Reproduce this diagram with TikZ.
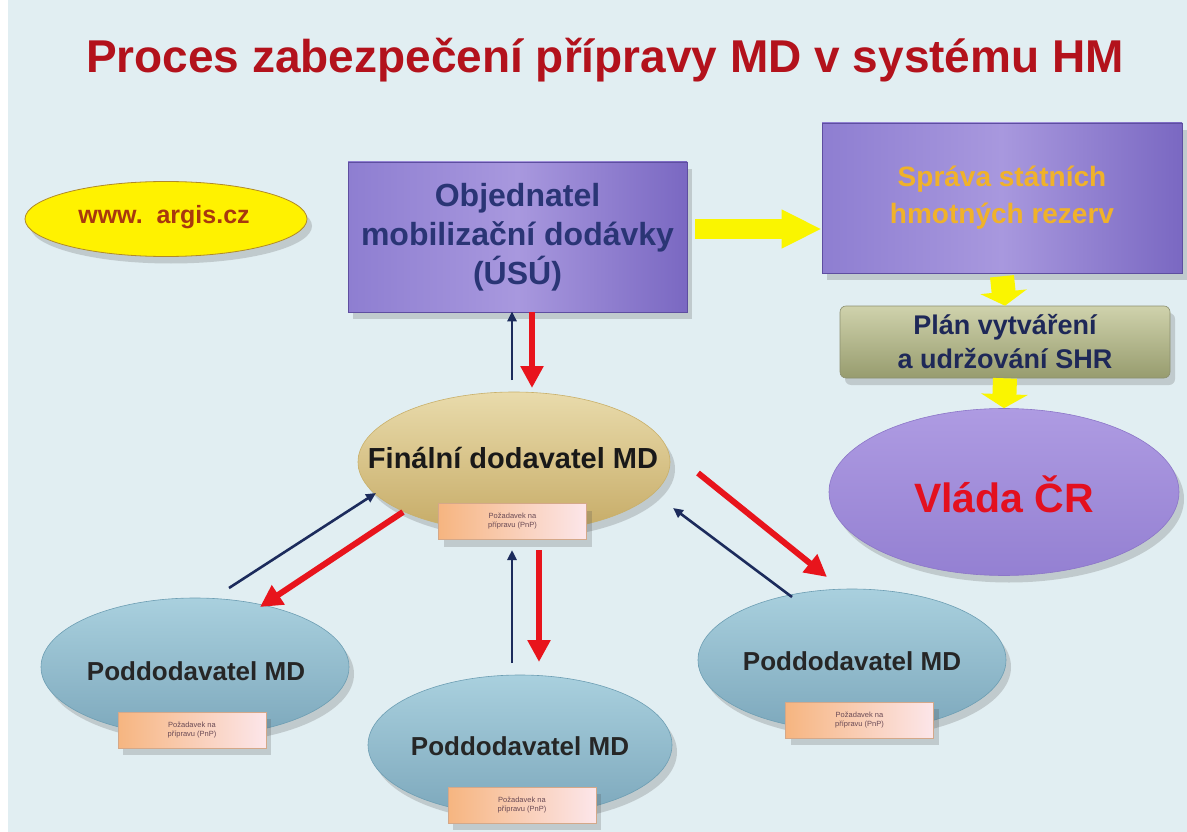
\documentclass[tikz,border=0pt]{standalone}
\usepackage{fontspec}
\setmainfont{Liberation Sans}
\usetikzlibrary{shapes.geometric,arrows.meta,shadows}
\newcommand\myfs[2]{\fontsize{#1}{#2}\selectfont}
\definecolor{bgc}{HTML}{E1EEF2}
\definecolor{titlered}{HTML}{B3121C}
\definecolor{navy}{HTML}{1C2B5C}
\definecolor{arrred}{HTML}{E8141C}
\definecolor{arryel}{HTML}{FAF500}
\definecolor{objtext}{HTML}{2A3575}
\definecolor{goldtext}{HTML}{F0B22A}
\definecolor{plantext}{HTML}{1E2858}
\definecolor{vladared}{HTML}{E3101F}
\definecolor{wwwtext}{HTML}{A8380E}
\definecolor{smalltext}{HTML}{6A4A55}
\definecolor{purL}{HTML}{8E7ED1}
\definecolor{purR}{HTML}{7A68C2}
\definecolor{purM}{HTML}{A898DE}
\definecolor{purD}{HTML}{5E4EA0}
\definecolor{podD}{HTML}{6D9EB3}
\definecolor{podT}{HTML}{A9D0DE}
\definecolor{podB}{HTML}{7DA8BC}
\definecolor{smD}{HTML}{D4A889}
\definecolor{smL}{HTML}{F6B580}
\definecolor{smR}{HTML}{FCE6EA}
\definecolor{wwwD}{HTML}{B08A2A}
\definecolor{wwwF}{HTML}{FFF200}
\definecolor{planD}{HTML}{8C9070}
\definecolor{planT}{HTML}{CFD2AC}
\definecolor{planB}{HTML}{979C6E}
\definecolor{vlaD}{HTML}{8C76C8}
\definecolor{vlaT}{HTML}{AE9BE2}
\definecolor{vlaB}{HTML}{9480D2}
\definecolor{finD}{HTML}{C9B06A}
\definecolor{finT}{HTML}{E9DBAC}
\definecolor{finB}{HTML}{C6AB66}
\begin{document}
\begin{tikzpicture}[x=1pt,y=-1pt,
  shad/.style={drop shadow={shadow xshift=5pt,shadow yshift=-7pt,opacity=0.22,fill=black!70}},
  purplebox/.style={rectangle,draw=purD,line width=0.6pt,left color=purL,right color=purR,middle color=purM,shad,inner sep=0pt},
  podd/.style={ellipse,draw=podD,line width=0.6pt,top color=podT,bottom color=podB,shad,inner sep=0pt,minimum width=308pt,minimum height=138pt},
  poddtext/.style={font=\bfseries\myfs{26}{30},text=black!85,inner sep=0pt},
  smallbox/.style={rectangle,draw=smD,line width=0.5pt,left color=smL,right color=smR,shad,minimum width=148pt,minimum height=36pt,inner sep=0pt,align=center,font=\myfs{7.5}{9},text=smalltext},
  redarr/.style={draw=arrred,line width=6pt,-{Triangle[width=22pt,length=22pt]}},
  navyarr/.style={draw=navy,line width=2.6pt,-{Triangle[width=9pt,length=10pt]}},
  yelarr/.style={draw=arryel,line width=20pt,-{Triangle[width=36pt,length=40pt]}},
  yeldown/.style={draw=arryel,line width=24pt,-{Triangle[width=46pt,length=14pt]}},
]
\useasboundingbox (0,0) rectangle (1187,832);
\fill[white] (0,0) rectangle (1187,832);
\fill[bgc] (8,0) rectangle (1187,832);

% title
\node[text=titlered,font=\bfseries\myfs{46}{50}] (title) at (605,60) {Proces zabezpečení přípravy MD v systému HM};

% www ellipse
\node[ellipse,draw=wwwD,line width=0.8pt,fill=wwwF,shad,minimum width=282pt,minimum height=75pt,inner sep=0pt] (www) at (166,219) {};
\node[text=wwwtext,font=\bfseries\myfs{25}{28},inner sep=0pt] (wwwt) at (164,217) {www.\ \ argis.cz};

% Objednatel
\node[purplebox,minimum width=339pt,minimum height=150pt,align=center,text=objtext,font=\bfseries\myfs{32}{39}] (obj) at (517.5,237) {Objednatel\\mobilizační dodávky\\(ÚSÚ)};

% Sprava
\node[purplebox,minimum width=360pt,minimum height=150pt,align=center,text=goldtext,font=\bfseries\myfs{28}{37}] (spr) at (1002,198) {Správa státních\\hmotných rezerv};

% Plan
\node[rectangle,rounded corners=6pt,draw=planD,line width=0.6pt,top color=planT,bottom color=planB,shad,minimum width=330pt,minimum height=72pt,inner sep=0pt,align=center,text=plantext,font=\bfseries\myfs{27}{34}] (plan) at (1005,342) {Plán vytváření\\a udržování SHR};

% Vlada
\node[ellipse,draw=vlaD,line width=0.6pt,top color=vlaT,bottom color=vlaB,shad,minimum width=350pt,minimum height=167pt,inner sep=0pt] (vlada) at (1004,492) {};
\node[text=vladared,font=\bfseries\myfs{41}{45},inner sep=0pt] (vladat) at (1004,494) {Vláda ČR};

% Finalni
\node[ellipse,draw=finD,line width=0.6pt,top color=finT,bottom color=finB,shad,minimum width=312pt,minimum height=140pt,inner sep=0pt] (fin) at (514,462) {};
\node[text=black!90,font=\bfseries\myfs{29}{32},inner sep=0pt] (fint) at (513,458) {Finální dodavatel MD};
\node[smallbox] (finbox) at (512.5,521.5) {Požadavek na\\přípravu (PnP)};

% Poddodavatele
\node[podd] (pl) at (195,667) {};
\node[poddtext] (plt) at (196,671) {Poddodavatel MD};
\node[smallbox] (plbox) at (192,730) {Požadavek na\\přípravu (PnP)};
\node[podd,minimum width=304pt,minimum height=140pt] (pm) at (520,745) {};
\node[poddtext] (pmt) at (520,746) {Poddodavatel MD};
\node[smallbox] (pmbox) at (522,805) {Požadavek na\\přípravu (PnP)};
\node[podd,minimum height=142pt] (pr) at (852,660) {};
\node[poddtext] (prt) at (852,661) {Poddodavatel MD};
\node[smallbox] (prbox) at (859.5,720) {Požadavek na\\přípravu (PnP)};

% yellow arrows
\draw[yelarr] ([xshift=8pt]obj.east |- 0,229) -- (spr.west |- 0,229);
\draw[yeldown] ([yshift=-3pt]spr.south) -- (plan.north);
\draw[yeldown] (plan.south) -- (vlada.north);

% red / navy arrows
\draw[redarr] ([xshift=14.5pt]obj.south) -- ([shift={(18,-74)}]fin.center);
\draw[navyarr] ([shift={(-2,-82)}]fin.center) -- ([xshift=-5.5pt,yshift=1pt]obj.south);

\draw[navyarr] ([shift={(34,-79)}]pl.center) -- ([shift={(-138,31)}]fin.center);
\draw[redarr] ([shift={(-111,50)}]fin.center) -- ([shift={(65,-60)}]pl.center);

\draw[navyarr] ([shift={(-8,-82)}]pm.center) -- ([shift={(-2,88)}]fin.center);
\draw[redarr] ([shift={(25,88)}]fin.center) -- ([shift={(19,-83)}]pm.center);

\draw[redarr] ([shift={(184,11)}]fin.center) -- ([shift={(-25,-83)}]pr.center);
\draw[navyarr] ([shift={(-60,-63)}]pr.center) -- ([shift={(159,46)}]fin.center);
\end{tikzpicture}
\end{document}
